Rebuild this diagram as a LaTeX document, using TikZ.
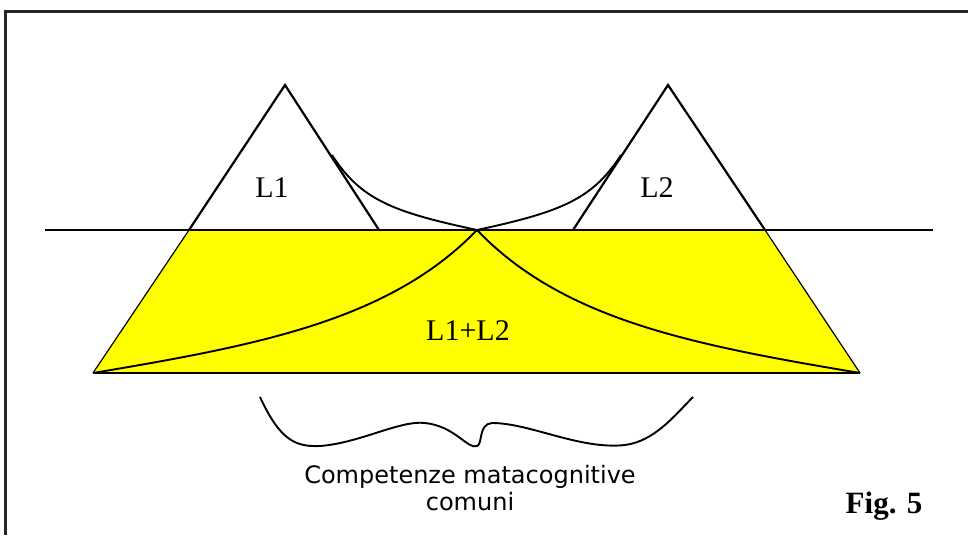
\documentclass[tikz,border=0pt]{standalone}
\usepackage{fontspec}
\setmainfont{Liberation Serif}
\newfontfamily\labelsans{DejaVu Sans}
\usepackage{xcolor}
\usepackage{tikz}
\usetikzlibrary{calc}
\definecolor{pureyellow}{RGB}{255,255,0}

\begin{document}
\begin{tikzpicture}[x=1pt, y=-1pt, line width=2.2pt]
  \useasboundingbox (0,0) rectangle (968,535);
  % frame (only top and left edges fall inside the picture)
  \draw[line width=3pt, black!85] (968,12) -- (5,12) -- (5,535);
  % corners of the two triangles and of the shared trapezoid
  \coordinate (topA) at (285,85);
  \coordinate (topB) at (668,85);
  \coordinate (baseAl) at (189,230);
  \coordinate (baseAr) at (379,230);
  \coordinate (baseBl) at (573,230);
  \coordinate (baseBr) at (765,230);
  \coordinate (footA) at (93,373);
  \coordinate (footB) at (860,373);
  \coordinate (meet) at (477,230);
  \coordinate (lineW) at (45,230);
  \coordinate (lineE) at (933,230);
  \fill[pureyellow] (baseAl) -- (baseBr) -- (footB) -- (footA) -- cycle;
  \draw[line width=1.2pt] (footA) -- (baseAl);
  \draw[line width=1.2pt] (footB) -- (baseBr);
  \draw (lineW) -- (lineE);
  \draw (footA) -- (footB);
  \draw (baseAl) -- (topA) -- (baseAr);
  \draw (baseBr) -- (topB) -- (baseBl);
  % the two growth curves crossing at (meet)
  \draw[line width=1.9pt] (footA) .. controls (260,345) and (390,320) .. (meet)
    .. controls (560,212) and (592,200) .. (621,155);
  \draw[line width=1.9pt] (footB) .. controls (693,345) and (563,320) .. (meet)
    .. controls (393,212) and (361,200) .. (332,155);
  \node[anchor=base, font=\fontsize{30}{34}\selectfont] (l1) at (272,197) {L1};
  \node[anchor=base, font=\fontsize{30}{34}\selectfont] (l2) at (657,197) {L2};
  \node[anchor=base, font=\fontsize{30}{34}\selectfont] (l12) at (468,340) {L1+L2};
  % brace under the trapezoid
  \draw[line width=1.9pt] (260,397) .. controls (280,440) and (295,447) .. (320,446)
    .. controls (360,443) and (400,420) .. (425,423)
    .. controls (455,426) and (468,450) .. (477,446)
    .. controls (483,444) and (478,424) .. (492,423)
    .. controls (530,423) and (580,450) .. (625,445)
    .. controls (655,441) and (675,415) .. (693,397);
  \node[align=center, inner sep=0pt, font=\labelsans\fontsize{24}{27}\selectfont] (ccm) at (470,488)
    {Competenze matacognitive\\comuni};
  \node[anchor=base, font=\bfseries\fontsize{31}{34}\selectfont] (fig) at (884,513) {Fig. 5};
\end{tikzpicture}
\end{document}
